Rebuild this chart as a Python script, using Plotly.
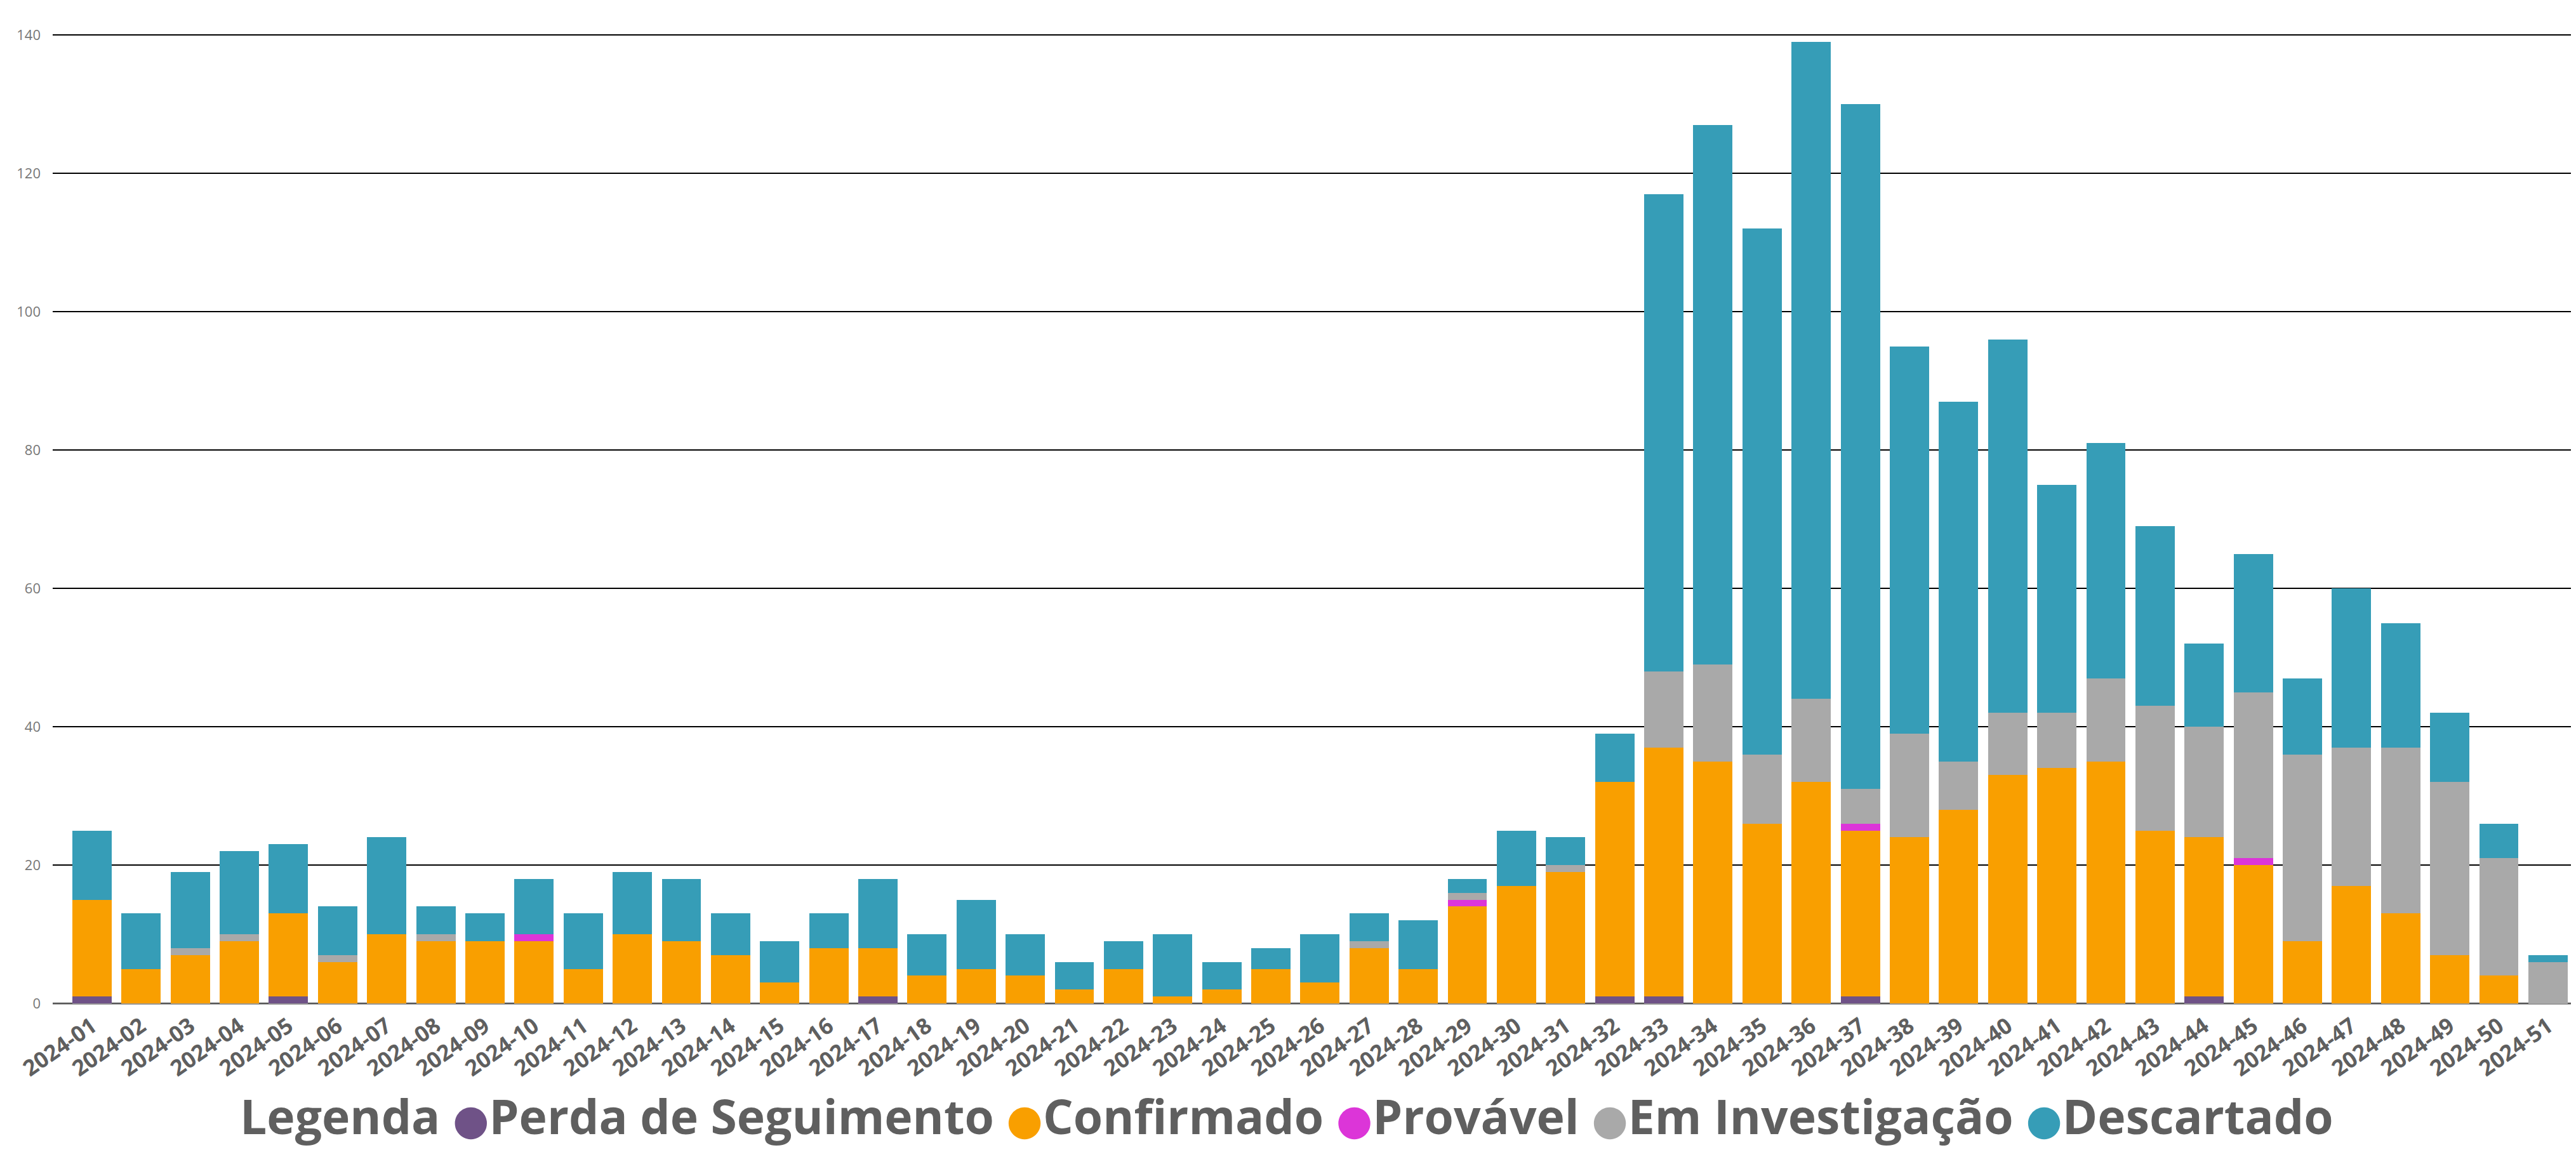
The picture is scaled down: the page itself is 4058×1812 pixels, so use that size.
import plotly.graph_objects as go

weeks = ["2024-01", "2024-02", "2024-03", "2024-04", "2024-05", "2024-06", "2024-07", "2024-08",
         "2024-09", "2024-10", "2024-11", "2024-12", "2024-13", "2024-14", "2024-15", "2024-16",
         "2024-17", "2024-18", "2024-19", "2024-20", "2024-21", "2024-22", "2024-23", "2024-24",
         "2024-25", "2024-26", "2024-27", "2024-28", "2024-29", "2024-30", "2024-31", "2024-32",
         "2024-33", "2024-34", "2024-35", "2024-36", "2024-37", "2024-38", "2024-39", "2024-40",
         "2024-41", "2024-42", "2024-43", "2024-44", "2024-45", "2024-46", "2024-47", "2024-48",
         "2024-49", "2024-50", "2024-51"]

perda = [1, 0, 0, 0, 1, 0, 0, 0, 0, 0, 0, 0, 0, 0, 0, 0, 1, 0, 0, 0, 0, 0, 0, 0, 0, 0,
         0, 0, 0, 0, 0, 1, 1, 0, 0, 0, 1, 0, 0, 0, 0, 0, 0, 1, 0, 0, 0, 0, 0, 0, 0]
confirmado = [14, 5, 7, 9, 12, 6, 10, 9, 9, 9, 5, 10, 9, 7, 3, 8, 7, 4, 5, 4, 2, 5, 1, 2, 5, 3,
              8, 5, 14, 17, 19, 31, 36, 35, 26, 32, 24, 24, 28, 33, 34, 35, 25, 23, 20, 9, 17, 13, 7, 4, 0]
provavel = [0, 0, 0, 0, 0, 0, 0, 0, 0, 1, 0, 0, 0, 0, 0, 0, 0, 0, 0, 0, 0, 0, 0, 0, 0, 0,
            0, 0, 1, 0, 0, 0, 0, 0, 0, 0, 1, 0, 0, 0, 0, 0, 0, 0, 1, 0, 0, 0, 0, 0, 0]
investigacao = [0, 0, 1, 1, 0, 1, 0, 1, 0, 0, 0, 0, 0, 0, 0, 0, 0, 0, 0, 0, 0, 0, 0, 0, 0, 0,
                1, 0, 1, 0, 1, 0, 11, 14, 10, 12, 5, 15, 7, 9, 8, 12, 18, 16, 24, 27, 20, 24, 25, 17, 6]
descartado = [10, 8, 11, 12, 10, 7, 14, 4, 4, 8, 8, 9, 9, 6, 6, 5, 10, 6, 10, 6, 4, 4, 9, 4, 3, 7,
              4, 7, 2, 8, 4, 7, 69, 78, 76, 95, 99, 56, 52, 54, 33, 34, 26, 12, 20, 11, 23, 18, 10, 5, 1]

series_names = ["Perda de Seguimento", "Confirmado", "Provável", "Em Investigação", "Descartado"]
series_values = [perda, confirmado, provavel, investigacao, descartado]
series_colors = ["#6F5287", "#F99F00", "#DC35D8", "#A9A9A9", "#369DB7"]

y_ticks = [0, 20, 40, 60, 80, 100, 120, 140]
legend_title = "Legenda"

TEXT = "#5F5F5F"
FONT = "Open Sans"

fig = go.Figure()
for name, vals, col in zip(series_names, series_values, series_colors):
    fig.add_trace(go.Bar(x=weeks, y=vals, name=name, marker=dict(color=col, line=dict(width=0)),
                         showlegend=False))

# legend line built as rich text from the series names / colours
parts = [f"<b>{legend_title}</b>"]
for name, col in zip(series_names, series_colors):
    parts.append(f"<span style='color:{col};font-family:DejaVu Sans;font-size:66px'>●</span><b>{name}</b>")
legend_text = " ".join(parts)

fig.add_annotation(text=legend_text, xref="paper", yref="paper", x=0.489, y=-0.116,
                   xanchor="center", yanchor="middle", showarrow=False,
                   font=dict(family=FONT, size=75, color=TEXT))

# the page body has an 8px margin, so the figure is 8px smaller and margins shifted
fig.update_layout(
    width=4050, height=1804, autosize=False,
    margin=dict(l=75, r=0, t=45, b=231),
    barmode="stack", bargap=0.2,
    plot_bgcolor="white", paper_bgcolor="white",
    font=dict(family=FONT, color=TEXT),
    xaxis=dict(type="category", range=[-0.8, 50.57], tickangle=-35,
               tickfont=dict(family=FONT, size=35, color=TEXT, weight="bold"),
               showgrid=False, showline=True, linecolor="#999999", linewidth=2, ticks=""),
    yaxis=dict(range=[0, 140.2], tickvals=y_ticks, showgrid=True, gridcolor="#000000", gridwidth=2,
               zeroline=True, zerolinecolor="#000000", zerolinewidth=2,
               tickfont=dict(family=FONT, size=22, color="#777777"), ticklabelstandoff=18),
)

fig.write_html("out.html")
